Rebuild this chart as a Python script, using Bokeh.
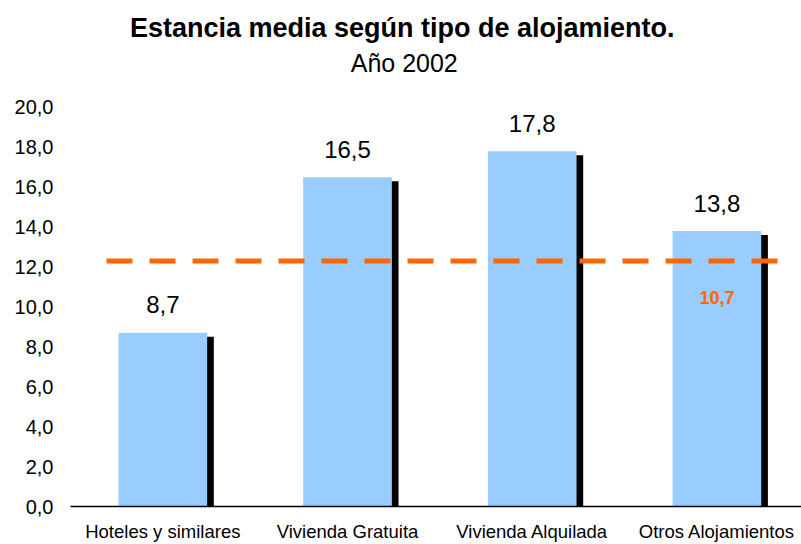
from bokeh.plotting import figure
from bokeh.models import Range1d, FixedTicker
from bokeh.embed import file_html
from bokeh.resources import INLINE
from bokeh.core.properties import value

# ---- data ----
categories = ["Hoteles y similares", "Vivienda Gratuita", "Vivienda Alquilada", "Otros Alojamientos"]
estancia = [8.7, 16.5, 17.8, 13.8]
value_labels = ["8,7", "16,5", "17,8", "13,8"]
avg_value = 12.3
avg_label = "10,7"
y_ticks = [0, 2, 4, 6, 8, 10, 12, 14, 16, 18, 20]
y_tick_labels = ["0,0", "2,0", "4,0", "6,0", "8,0", "10,0", "12,0", "14,0", "16,0", "18,0", "20,0"]
title_text = "Estancia media según tipo de alojamiento."
subtitle_text = "Año 2002"

# ---- style / layout ----
FONT = "Liberation Sans"
BLUE = "#99CCFF"
ORANGE = "#FF6600"
BAR_W = 0.48
SHADOW_DX = 0.036
SHADOW_DY = 0.2
Y_TOP = 25.35          # extra headroom inside the frame for the titles
TITLE_Y = 23.95
SUBTITLE_Y = 22.2
TITLE_X = 1.796
SUBTITLE_X = 1.807

xs = [i + 0.5 for i in range(len(categories))]
xs_shadow = [x + SHADOW_DX for x in xs]
shadow_tops = [v - SHADOW_DY for v in estancia]

p = figure(width=801, height=544, output_backend="svg", toolbar_location=None,
           x_range=Range1d(0, 3.958), y_range=Range1d(0, Y_TOP),
           min_border_left=70, min_border_right=0, min_border_top=0, min_border_bottom=37)
p.outline_line_color = None
p.xgrid.visible = False
p.ygrid.visible = False
p.background_fill_color = "white"
p.border_fill_color = "white"

# bars with shadow
p.vbar(x=xs_shadow, top=shadow_tops, bottom=0, width=BAR_W, fill_color="black", line_color=None)
p.vbar(x=xs, top=estancia, bottom=0, width=BAR_W, fill_color=BLUE, line_color=None)

# value labels
p.text(x=xs, y=estancia, text=value_labels, y_offset=-28, text_align="center", text_baseline="middle",
       text_font=value(FONT), text_font_size="24px", text_color="black")

# average dashed line
p.line(x=[0.195, 3.828], y=[avg_value, avg_value], line_color=ORANGE, line_width=5, line_dash="26 17")
p.text(x=[xs[-1]], y=[avg_value], text=[avg_label], y_offset=37, text_align="center", text_baseline="middle",
       text_font=value(FONT), text_font_size="18px", text_font_style="bold", text_color=ORANGE)

# titles
p.text(x=[TITLE_X], y=[TITLE_Y], text=[title_text], text_align="center", text_baseline="middle",
       text_font=value(FONT), text_font_size="27px", text_font_style="bold", text_color="black")
p.text(x=[SUBTITLE_X], y=[SUBTITLE_Y], text=[subtitle_text], text_align="center", text_baseline="middle",
       text_font=value(FONT), text_font_size="25px", text_color="black")

# axes
p.xaxis.ticker = FixedTicker(ticks=xs)
p.xaxis.major_label_overrides = {x: c for x, c in zip(xs, categories)}
p.xaxis.axis_line_color = "black"
p.xaxis.axis_line_width = 1.5
p.xaxis.major_tick_line_color = None
p.xaxis.minor_tick_line_color = None
p.xaxis.major_tick_out = 0
p.xaxis.major_tick_in = 0
p.xaxis.major_label_standoff = 14
p.xaxis.major_label_text_font = FONT
p.xaxis.major_label_text_font_size = "18.5px"
p.xaxis.major_label_text_color = "black"

p.yaxis.ticker = FixedTicker(ticks=y_ticks)
p.yaxis.major_label_overrides = {t: l for t, l in zip(y_ticks, y_tick_labels)}
p.yaxis.axis_line_color = None
p.yaxis.major_tick_line_color = None
p.yaxis.minor_tick_line_color = None
p.yaxis.major_tick_out = 0
p.yaxis.major_tick_in = 0
p.yaxis.major_label_standoff = 17
p.yaxis.major_label_text_font = FONT
p.yaxis.major_label_text_font_size = "20px"
p.yaxis.major_label_text_color = "black"

open("out.html", "w").write(file_html(p, INLINE))
